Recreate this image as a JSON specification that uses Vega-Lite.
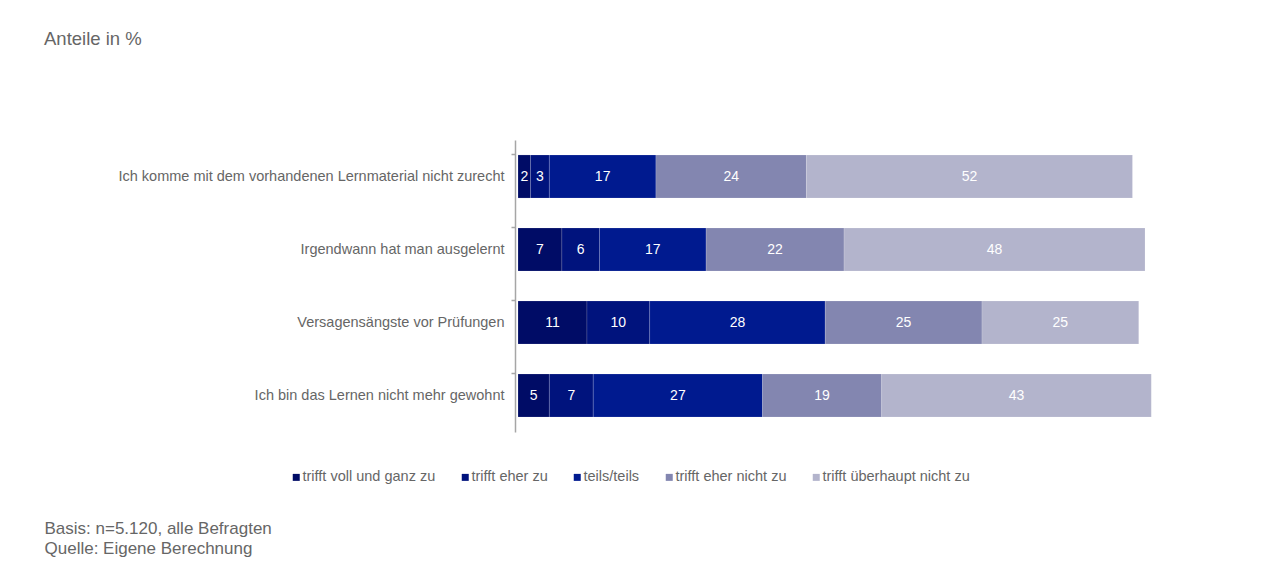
{
  "$schema": "https://vega.github.io/schema/vega-lite/v6.json",
  "width": 627,
  "height": 292,
  "autosize": {"type": "none"},
  "padding": {"left": 518, "top": 140, "right": 143, "bottom": 132},
  "background": "#ffffff",
  "config": {
    "view": {"stroke": null},
    "font": "Liberation Sans"
  },
  "title": {
    "text": "Anteile in %",
    "anchor": "start",
    "frame": "group",
    "dx": -474,
    "offset": 92,
    "fontSize": 18.5,
    "fontWeight": "normal",
    "color": "#666666",
    "font": "Liberation Sans"
  },
  "data": {
    "values": [
      {"item": "Ich komme mit dem vorhandenen Lernmaterial nicht zurecht", "answer": "trifft voll und ganz zu", "code": 1, "value": 2},
      {"item": "Ich komme mit dem vorhandenen Lernmaterial nicht zurecht", "answer": "trifft eher zu", "code": 2, "value": 3},
      {"item": "Ich komme mit dem vorhandenen Lernmaterial nicht zurecht", "answer": "teils/teils", "code": 3, "value": 17},
      {"item": "Ich komme mit dem vorhandenen Lernmaterial nicht zurecht", "answer": "trifft eher nicht zu", "code": 4, "value": 24},
      {"item": "Ich komme mit dem vorhandenen Lernmaterial nicht zurecht", "answer": "trifft überhaupt nicht zu", "code": 5, "value": 52},
      {"item": "Irgendwann hat man ausgelernt", "answer": "trifft voll und ganz zu", "code": 1, "value": 7},
      {"item": "Irgendwann hat man ausgelernt", "answer": "trifft eher zu", "code": 2, "value": 6},
      {"item": "Irgendwann hat man ausgelernt", "answer": "teils/teils", "code": 3, "value": 17},
      {"item": "Irgendwann hat man ausgelernt", "answer": "trifft eher nicht zu", "code": 4, "value": 22},
      {"item": "Irgendwann hat man ausgelernt", "answer": "trifft überhaupt nicht zu", "code": 5, "value": 48},
      {"item": "Versagensängste vor Prüfungen", "answer": "trifft voll und ganz zu", "code": 1, "value": 11},
      {"item": "Versagensängste vor Prüfungen", "answer": "trifft eher zu", "code": 2, "value": 10},
      {"item": "Versagensängste vor Prüfungen", "answer": "teils/teils", "code": 3, "value": 28},
      {"item": "Versagensängste vor Prüfungen", "answer": "trifft eher nicht zu", "code": 4, "value": 25},
      {"item": "Versagensängste vor Prüfungen", "answer": "trifft überhaupt nicht zu", "code": 5, "value": 25},
      {"item": "Ich bin das Lernen nicht mehr gewohnt", "answer": "trifft voll und ganz zu", "code": 1, "value": 5},
      {"item": "Ich bin das Lernen nicht mehr gewohnt", "answer": "trifft eher zu", "code": 2, "value": 7},
      {"item": "Ich bin das Lernen nicht mehr gewohnt", "answer": "teils/teils", "code": 3, "value": 27},
      {"item": "Ich bin das Lernen nicht mehr gewohnt", "answer": "trifft eher nicht zu", "code": 4, "value": 19},
      {"item": "Ich bin das Lernen nicht mehr gewohnt", "answer": "trifft überhaupt nicht zu", "code": 5, "value": 43}
    ]
  },
  "encoding": {
    "y": {
      "field": "item",
      "type": "nominal",
      "sort": null,
      "scale": {"paddingInner": 0.41, "paddingOuter": 0.205},
      "axis": {
        "title": null,
        "bandPosition": 0,
        "offset": 3,
        "domainColor": "#a6a6a6",
        "domainWidth": 1.5,
        "tickColor": "#a6a6a6",
        "tickWidth": 1.5,
        "tickSize": 4,
        "labelPadding": 7,
        "labelFontSize": 14.5,
        "labelColor": "#666666",
        "labelFont": "Liberation Sans",
        "labelLimit": 600
      }
    },
    "x": {
      "field": "value",
      "type": "quantitative",
      "stack": "zero",
      "scale": {"domain": [0, 100], "nice": false},
      "axis": {
        "labels": false,
        "ticks": false,
        "domain": false,
        "grid": false,
        "title": ["Basis: n=5.120, alle Befragten", "Quelle: Eigene Berechnung"],
        "titleX": -474,
        "titleY": 88,
        "titleAlign": "left",
        "titleBaseline": "top",
        "titleAnchor": "start",
        "titleFontSize": 17,
        "titleFontWeight": "normal",
        "titleColor": "#666666",
        "titleFont": "Liberation Sans",
        "titleLineHeight": 20
      }
    },
    "order": {"field": "code", "type": "quantitative"}
  },
  "layer": [
    {
      "mark": {"type": "bar", "stroke": "#ffffff", "strokeWidth": 0.3, "strokeOpacity": 0.5},
      "encoding": {
        "color": {
          "field": "answer",
          "type": "nominal",
          "scale": {
            "domain": ["trifft voll und ganz zu", "trifft eher zu", "teils/teils", "trifft eher nicht zu", "trifft überhaupt nicht zu"],
            "range": ["#000c66", "#00137d", "#001a8f", "#8386b0", "#b3b4cc"]
          },
          "legend": {
            "title": null,
            "orient": "none",
            "direction": "horizontal",
            "columns": 5,
            "legendX": -229,
            "legendY": 330,
            "symbolType": "square",
            "symbolSize": 49,
            "symbolStrokeWidth": 0,
            "labelOffset": -1,
            "columnPadding": 22,
            "labelFontSize": 14.5,
            "labelColor": "#666666",
            "labelFont": "Liberation Sans",
            "labelLimit": 300
          }
        }
      }
    },
    {
      "mark": {"type": "text", "color": "#ffffff", "fontSize": 14, "font": "Liberation Sans", "align": "center", "baseline": "middle"},
      "encoding": {
        "x": {"field": "value", "type": "quantitative", "stack": "zero", "bandPosition": 0.5},
        "text": {"field": "value", "type": "quantitative"}
      }
    }
  ]
}
